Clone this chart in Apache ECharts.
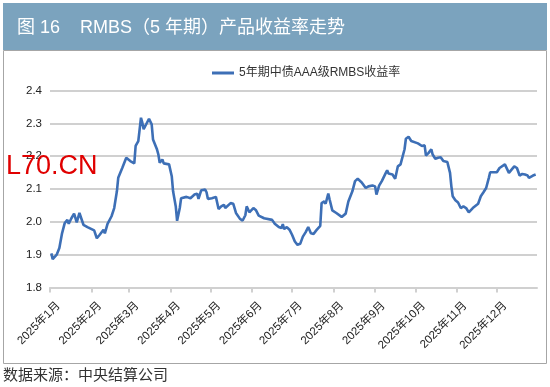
<!DOCTYPE html>
<html><head><meta charset="utf-8">
<script src="https://cdn.jsdelivr.net/npm/echarts@6/dist/echarts.min.js"></script>
<style>html,body{margin:0;padding:0;background:#fff}#c{width:550px;height:387px}</style>
</head><body><div id="c"></div>
<script>
const titleText = '图 16    RMBS（5 年期）产品收益率走势';
const sourceText = '数据来源：中央结算公司';
const watermarkText = 'L70.CN';
const seriesName = '5年期中债AAA级RMBS收益率';
const monthLabels = ['2025年1月','2025年2月','2025年3月','2025年4月','2025年5月','2025年6月','2025年7月','2025年8月','2025年9月','2025年10月','2025年11月','2025年12月'];
const yMin = 1.8, yMax = 2.4, yStep = 0.1;

const dates = [
'2025-01-02','2025-01-03','2025-01-06','2025-01-08','2025-01-10','2025-01-12','2025-01-14','2025-01-15','2025-01-17','2025-01-19',
'2025-01-21','2025-01-23','2025-01-24','2025-01-26','2025-01-29','2025-02-03','2025-02-05','2025-02-07','2025-02-10','2025-02-11',
'2025-02-13','2025-02-16','2025-02-18','2025-02-20','2025-02-21','2025-02-24','2025-02-27','2025-03-02','2025-03-05','2025-03-06',
'2025-03-08','2025-03-10','2025-03-11','2025-03-12','2025-03-16','2025-03-18','2025-03-19','2025-03-22','2025-03-23','2025-03-24',
'2025-03-26','2025-03-27','2025-03-31','2025-04-02','2025-04-03','2025-04-05','2025-04-06','2025-04-08','2025-04-09','2025-04-13',
'2025-04-14','2025-04-16','2025-04-19','2025-04-21','2025-04-22','2025-04-24','2025-04-27','2025-04-28','2025-04-29','2025-05-02',
'2025-05-05','2025-05-07','2025-05-09','2025-05-11','2025-05-12','2025-05-16','2025-05-18','2025-05-20','2025-05-23','2025-05-25',
'2025-05-27','2025-05-28','2025-05-30','2025-05-31','2025-06-02','2025-06-04','2025-06-06','2025-06-10','2025-06-11','2025-06-16',
'2025-06-18','2025-06-21','2025-06-23','2025-06-24','2025-06-25','2025-06-27','2025-06-29','2025-07-01','2025-07-03','2025-07-05',
'2025-07-07','2025-07-09','2025-07-11','2025-07-13','2025-07-15','2025-07-17','2025-07-19','2025-07-22','2025-07-23','2025-07-25',
'2025-07-26','2025-07-28','2025-07-29','2025-07-31','2025-08-03','2025-08-07','2025-08-10','2025-08-12','2025-08-15','2025-08-17',
'2025-08-19','2025-08-20','2025-08-22','2025-08-25','2025-08-27','2025-08-30','2025-09-01','2025-09-02','2025-09-04','2025-09-06',
'2025-09-09','2025-09-10','2025-09-11','2025-09-14','2025-09-16','2025-09-18','2025-09-20','2025-09-21','2025-09-23','2025-09-24',
'2025-09-26','2025-09-28','2025-10-03','2025-10-06','2025-10-08','2025-10-09','2025-10-11','2025-10-13','2025-10-14','2025-10-16',
'2025-10-18','2025-10-20','2025-10-22','2025-10-25','2025-10-27','2025-10-28','2025-10-29','2025-10-31','2025-11-02','2025-11-04',
'2025-11-06','2025-11-08','2025-11-10','2025-11-13','2025-11-17','2025-11-19','2025-11-21','2025-11-23','2025-11-25','2025-11-26',
'2025-11-29','2025-12-01','2025-12-03','2025-12-07','2025-12-08','2025-12-10','2025-12-12','2025-12-14','2025-12-16','2025-12-18',
'2025-12-20','2025-12-22','2025-12-24','2025-12-25','2025-12-28','2025-12-30'
];
const values = [
1.904,1.886,1.900,1.920,1.965,1.996,2.006,1.994,2.011,2.025,
1.998,2.027,2.025,1.991,1.984,1.974,1.950,1.960,1.976,1.965,
1.994,2.017,2.042,2.093,2.134,2.164,2.195,2.185,2.178,2.231,
2.246,2.317,2.302,2.282,2.314,2.297,2.251,2.220,2.205,2.180,
2.190,2.178,2.175,2.139,2.093,2.047,2.003,2.042,2.072,2.076,
2.080,2.072,2.083,2.086,2.070,2.096,2.098,2.090,2.070,2.072,
2.076,2.039,2.047,2.052,2.042,2.057,2.055,2.027,2.009,2.004,
2.020,2.047,2.029,2.035,2.042,2.035,2.019,2.011,2.006,2.006,
1.994,1.984,1.981,1.993,1.978,1.984,1.976,1.960,1.940,1.930,
1.933,1.955,1.968,1.984,1.965,1.963,1.974,1.988,2.057,2.062,
2.055,2.086,2.068,2.035,2.027,2.015,2.025,2.062,2.093,2.124,
2.131,2.134,2.120,2.103,2.108,2.111,2.108,2.083,2.110,2.124,
2.149,2.157,2.147,2.144,2.131,2.169,2.175,2.175,2.221,2.253,
2.259,2.246,2.239,2.231,2.233,2.202,2.210,2.221,2.205,2.192,
2.195,2.197,2.185,2.182,2.149,2.108,2.078,2.066,2.059,2.042,
2.047,2.042,2.029,2.042,2.055,2.078,2.090,2.103,2.134,2.151,
2.151,2.151,2.164,2.175,2.169,2.149,2.159,2.169,2.164,2.141,
2.146,2.144,2.141,2.134,2.141,2.144
];

// all calendar days of 2025 as categories
const categories = [];
for (let t = Date.UTC(2025,0,1); t <= Date.UTC(2025,11,31); t += 86400000) {
  categories.push(new Date(t).toISOString().slice(0,10));
}
const isMonthStart = (i, v) => v.slice(8,10) === '01';
const font = '"Liberation Sans", "Noto Sans CJK SC", sans-serif';

const chart = echarts.init(document.getElementById('c'), null, {renderer:'canvas'});
chart.setOption({
  animation: false,
  backgroundColor: '#fff',
  textStyle: {fontFamily: font},
  graphic: [
    {type:'rect', shape:{x:3, y:3, width:544, height:47}, style:{fill:'#7BA3BE'}, z:0},
    {type:'rect', shape:{x:3.5, y:50.5, width:543, height:313}, style:{fill:'#fff', stroke:'#a6a6a6', lineWidth:1}, z:0},
    {type:'text', left:17, top:19, style:{text:titleText, fill:'#fff', font:'18px ' + font}, z:5},
    {type:'text', left:3, top:368, style:{text:sourceText, fill:'#333', font:'15px ' + font}, z:5},
    {type:'text', left:6, top:153, style:{text:watermarkText, fill:'#e00000', font:'27px "Liberation Sans", sans-serif'}, z:100}
  ],
  legend: {
    top: 62, left: 207,
    icon: 'rect', itemWidth: 22, itemHeight: 3, itemGap: 10,
    textStyle: {fontSize: 12, color: '#333', fontFamily: font},
    data: [seriesName]
  },
  grid: {left: 50, right: 13, top: 90.5, bottom: 99.5, containLabel: false},
  xAxis: {
    type: 'category', data: categories, boundaryGap: false,
    axisLine: {lineStyle: {color: '#d0d0d0', width: 2}},
    axisTick: {show: true, interval: isMonthStart, length: 5, lineStyle: {color: '#d0d0d0', width: 2}},
    axisLabel: {
      interval: isMonthStart, rotate: 45, margin: 8, fontSize: 11.5, color: '#222',
      verticalAlign: 'top', padding: [6, 0, 0, 0],
      formatter: v => monthLabels[parseInt(v.slice(5,7),10) - 1]
    },
    splitLine: {show: false}
  },
  yAxis: {
    type: 'value', min: yMin, max: yMax, interval: yStep,
    axisLine: {show: false}, axisTick: {show: false},
    axisLabel: {fontSize: 11.5, color: '#222', margin: 8, formatter: v => v.toFixed(1)},
    splitLine: {lineStyle: {color: '#d0d0d0', width: 2}}
  },
  series: [{
    name: seriesName, type: 'line', showSymbol: false, symbol: 'none',
    data: dates.map((d, i) => [d, values[i]]),
    lineStyle: {color: '#3D6FB6', width: 2.6}, itemStyle: {color: '#3D6FB6'}
  }]
});
</script></body></html>
